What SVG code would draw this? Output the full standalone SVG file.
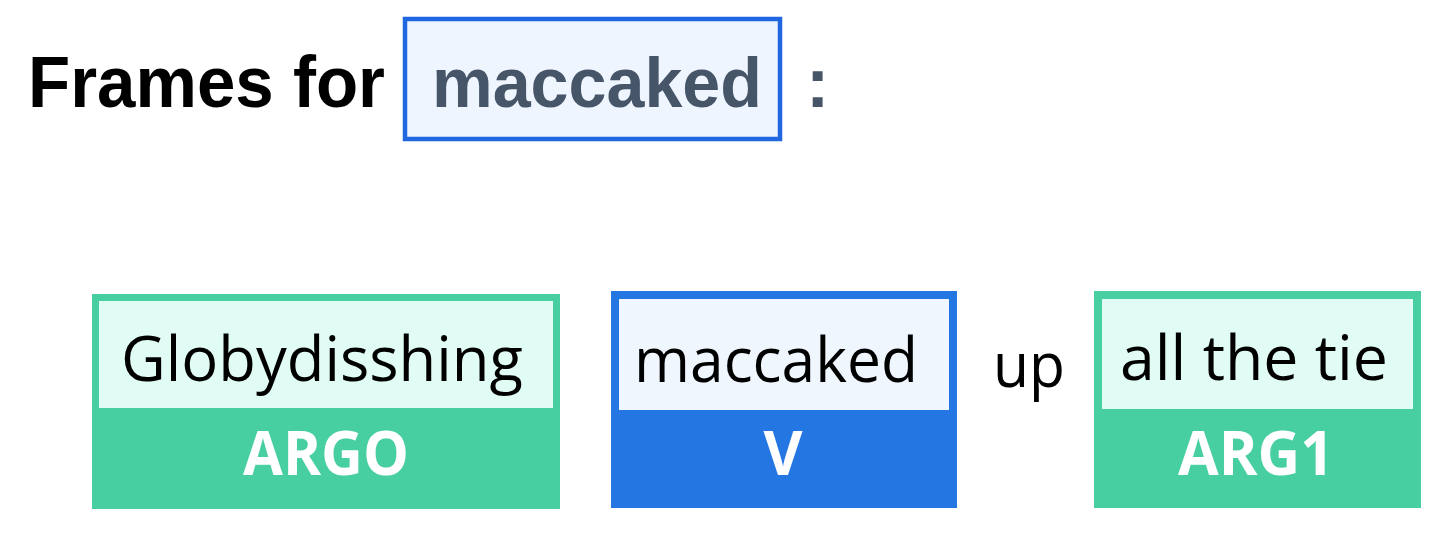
<svg xmlns="http://www.w3.org/2000/svg" width="1453" height="536" viewBox="0 0 1453 536">
<style>
.title{font-family:"Liberation Sans",Arial,sans-serif;font-weight:bold;font-size:72px;fill:#000}
.word{font-family:"Open Sans","Noto Sans",sans-serif;font-size:62px;fill:#000}
.lbl{font-family:"Open Sans","Noto Sans",sans-serif;font-weight:bold;font-size:60px;fill:#fff;text-anchor:middle}
.green{fill:#48cfa1}
.lgreen{fill:#e0fcf4}
.blue{fill:#2476e3}
.lblue{fill:#eff6fe}
</style>
<rect width="1453" height="536" fill="#fff"/>
<g id="title">
<text class="title" x="28" y="107" textLength="357" lengthAdjust="spacingAndGlyphs">Frames for</text>
<rect x="405" y="19" width="375" height="120" fill="#eef5ff" stroke="#1f66e0" stroke-width="4.5"/>
<text class="title" x="432" y="107" style="fill:#475569;font-size:70px" textLength="330" lengthAdjust="spacingAndGlyphs">maccaked</text>
<text class="title" x="806" y="107" style="fill:#475569;font-size:70px">:</text>
</g>
<g id="node-argo">
<rect class="green" x="92" y="294" width="468" height="215"/>
<rect class="lgreen" x="99" y="301" width="454" height="107"/>
<text class="word" x="121" y="381" textLength="402" lengthAdjust="spacingAndGlyphs">Globydisshing</text>
<text class="lbl" x="326" y="475" textLength="166" lengthAdjust="spacingAndGlyphs">ARGO</text>
</g>
<g id="node-v">
<rect class="blue" x="611" y="291" width="346" height="217"/>
<rect class="lblue" x="619" y="299" width="330" height="111"/>
<text class="word" x="634" y="382" textLength="284" lengthAdjust="spacingAndGlyphs">maccaked</text>
<text class="lbl" x="783" y="475">V</text>
</g>
<g id="word-up">
<text class="word" x="993" y="387" textLength="72" lengthAdjust="spacingAndGlyphs">up</text>
</g>
<g id="node-arg1">
<rect class="green" x="1094" y="291" width="327" height="217"/>
<rect class="lgreen" x="1102" y="299" width="311" height="110"/>
<text class="word" x="1120" y="380" textLength="268" lengthAdjust="spacingAndGlyphs">all the tie</text>
<text class="lbl" x="1256" y="475" textLength="156" lengthAdjust="spacingAndGlyphs">ARG1</text>
</g>
<g id="connectors"/>
</svg>
